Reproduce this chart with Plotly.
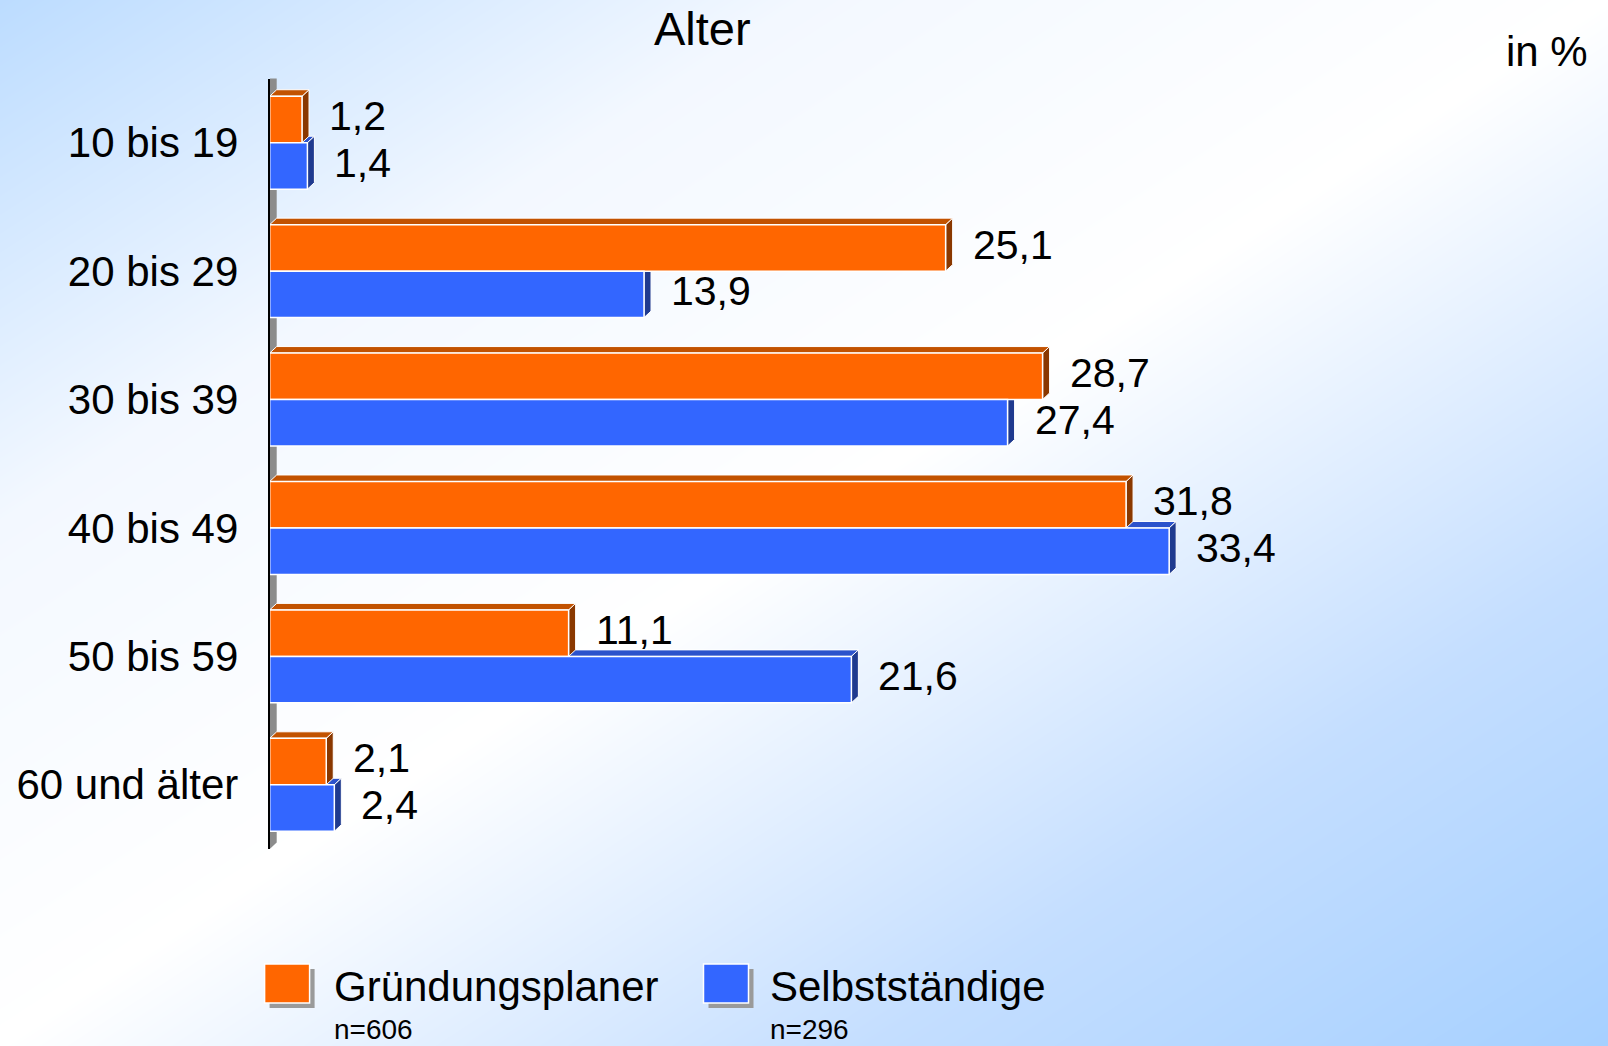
import plotly.graph_objects as go

# ── Daten ─────────────────────────────────────────────
kategorien = ["10 bis 19", "20 bis 29", "30 bis 39", "40 bis 49", "50 bis 59", "60 und älter"]
gruendungsplaner = [1.2, 25.1, 28.7, 31.8, 11.1, 2.1]
selbststaendige = [1.4, 13.9, 27.4, 33.4, 21.6, 2.4]
serien_namen = ["Gründungsplaner", "Selbstständige"]
stichproben = ["n=606", "n=296"]
titel = "Alter"
einheit = "in %"

# ── Layout-Konstanten (Pixel der 1608x1046-Seite) ─────
W, H = 1608, 1046
FONT = "Liberation Sans, Arial, sans-serif"
X0_PX, X1_PX = 269.7, 1370.0        # Plotbereich links/rechts
Y0_PX, Y1_PX = 78.5, 849.0          # Plotbereich oben/unten
PX_PRO_EINHEIT = 26.93
X_MAX = (X1_PX - X0_PX) / PX_PRO_EINHEIT
BARGAP = 0.276
W_BAR = (1 - BARGAP) / 2
PX_PRO_KAT = (Y1_PX - Y0_PX) / len(kategorien)
DX = 7 / PX_PRO_EINHEIT              # 3D-Tiefe in x (Dateneinheiten)
DY = 6.5 / PX_PRO_KAT                # 3D-Tiefe in y (Kategorie-Einheiten)

farben = {
    "front": ["#ff6600", "#3366ff"],
    "top": ["#c25200", "#2b52cc"],
    "side": ["#8a3800", "#1f3a8f"],
}


def px(x):
    return x / W


def py(y):
    return 1 - y / H


def pfad(punkte):
    return "M " + " L ".join(f"{x},{y}" for x, y in punkte) + " Z"


fig = go.Figure()

# Hintergrund-Verlauf (diagonal: blau - weiß - blau)
fig.add_trace(
    go.Heatmap(
        x=[0, 0.5, 1],
        y=[0, 0.5, 1],
        z=[[0, 0.5, 1], [0.5, 1, 1.5], [1, 1.5, 2]],
        zmin=0, zmax=2,
        zsmooth="best",
        colorscale=[[0, "#bcdcff"], [0.25, "#f3f8ff"], [0.5, "#ffffff"],
                    [0.77, "#c4deff"], [1, "#a6d0ff"]],
        showscale=False,
        hoverinfo="skip",
        xaxis="x", yaxis="y",
    )
)

pos = list(range(len(kategorien)))
for k, werte in enumerate([gruendungsplaner, selbststaendige]):
    fig.add_trace(
        go.Bar(
            x=werte,
            y=pos,
            orientation="h",
            name=serien_namen[k],
            marker=dict(color=farben["front"][k], line=dict(color="white", width=1.5)),
            xaxis="x2", yaxis="y2",
            hoverinfo="skip",
        )
    )

shapes = []
# linke Wand (grau)
shapes.append(dict(
    type="path", xref="x2", yref="y2", layer="below",
    path=pfad([(0, 5.5), (0, -0.5), (DX, -0.5 - DY), (DX, 5.5 - DY)]),
    fillcolor="#8c8c8c", line=dict(width=0),
))

annotations = []
for i in pos:
    vo, vb = gruendungsplaner[i], selbststaendige[i]
    # Selbstständige: oben + Seite (liegt unter der orangen Front)
    ob = i
    shapes.append(dict(type="path", xref="x2", yref="y2", layer="below",
                       path=pfad([(0, ob), (vb, ob), (vb + DX, ob - DY), (DX, ob - DY)]),
                       fillcolor=farben["top"][1], line=dict(color="white", width=1)))
    shapes.append(dict(type="path", xref="x2", yref="y2", layer="below",
                       path=pfad([(vb, ob), (vb + DX, ob - DY), (vb + DX, ob + W_BAR - DY), (vb, ob + W_BAR)]),
                       fillcolor=farben["side"][1], line=dict(color="white", width=1)))
    # Gründungsplaner: Seite + oben
    oo = i - W_BAR
    shapes.append(dict(type="path", xref="x2", yref="y2", layer="below",
                       path=pfad([(vo, oo), (vo + DX, oo - DY), (vo + DX, i - DY), (vo, i)]),
                       fillcolor=farben["side"][0], line=dict(color="white", width=1)))
    shapes.append(dict(type="path", xref="x2", yref="y2", layer="below",
                       path=pfad([(0, oo), (vo, oo), (vo + DX, oo - DY), (DX, oo - DY)]),
                       fillcolor=farben["top"][0], line=dict(color="white", width=1)))

    for k, (v, ymitte) in enumerate([(vo, i - W_BAR / 2), (vb, i + W_BAR / 2)]):
        annotations.append(dict(
            x=v, y=ymitte - DY / 2, xref="x2", yref="y2",
            text=f"{v:.1f}".replace(".", ","),
            showarrow=False, xanchor="left", yanchor="middle", xshift=25,
            font=dict(family=FONT, size=41, color="black"),
        ))

# Legende (manuell)
legende_x = [264.6, 703.5]
legende_text_x = [332, 768]
for k in range(2):
    lx = legende_x[k]
    shapes.append(dict(type="rect", xref="paper", yref="paper", layer="above",
                       x0=px(lx + 5), x1=px(lx + 50), y0=py(1008), y1=py(969),
                       fillcolor="#9a9a9a", line=dict(width=0)))
    shapes.append(dict(type="rect", xref="paper", yref="paper", layer="above",
                       x0=px(lx), x1=px(lx + 45), y0=py(1003), y1=py(964),
                       fillcolor=farben["front"][k], line=dict(color="white", width=1.5)))
    annotations.append(dict(x=px(legende_text_x[k]), y=py(986), xref="paper", yref="paper",
                            text=serien_namen[k], showarrow=False,
                            xanchor="left", yanchor="middle",
                            font=dict(family=FONT, size=42, color="black")))
    annotations.append(dict(x=px(legende_text_x[k]), y=py(1029), xref="paper", yref="paper",
                            text=stichproben[k], showarrow=False,
                            xanchor="left", yanchor="middle",
                            font=dict(family=FONT, size=28, color="black")))

annotations.append(dict(x=px(702.5), y=py(29), xref="paper", yref="paper",
                        text=titel, showarrow=False, xanchor="center", yanchor="middle",
                        font=dict(family=FONT, size=47, color="black")))
annotations.append(dict(x=px(1590), y=py(51), xref="paper", yref="paper",
                        text=einheit, showarrow=False, xanchor="right", yanchor="middle",
                        font=dict(family=FONT, size=42, color="black")))

fig.update_layout(
    width=W, height=H,
    margin=dict(l=0, r=0, t=0, b=0),
    paper_bgcolor="white",
    plot_bgcolor="rgba(0,0,0,0)",
    showlegend=False,
    barmode="group",
    bargap=BARGAP,
    bargroupgap=0,
    font=dict(family=FONT, color="black"),
    xaxis=dict(domain=[0, 1], range=[0, 1], visible=False, fixedrange=True),
    yaxis=dict(domain=[0, 1], range=[1, 0], visible=False, fixedrange=True),
    xaxis2=dict(domain=[px(X0_PX), px(X1_PX)], range=[0, X_MAX], anchor="y2",
                visible=False),
    yaxis2=dict(domain=[py(Y1_PX), py(Y0_PX)], range=[5.5, -0.5], anchor="x2",
                tickmode="array", tickvals=pos, ticktext=kategorien,
                tickfont=dict(family=FONT, size=42, color="black"),
                ticks="", ticklabelstandoff=21,
                showline=True, linecolor="black", linewidth=2,
                showgrid=False, zeroline=False),
    shapes=shapes,
    annotations=annotations,
)

# Seitenrand des <body> entfernen, damit die Grafik bündig bei (0,0) liegt
fig.write_html("out.html", config={"displayModeBar": False},
               post_script="document.body.style.margin='0';")
